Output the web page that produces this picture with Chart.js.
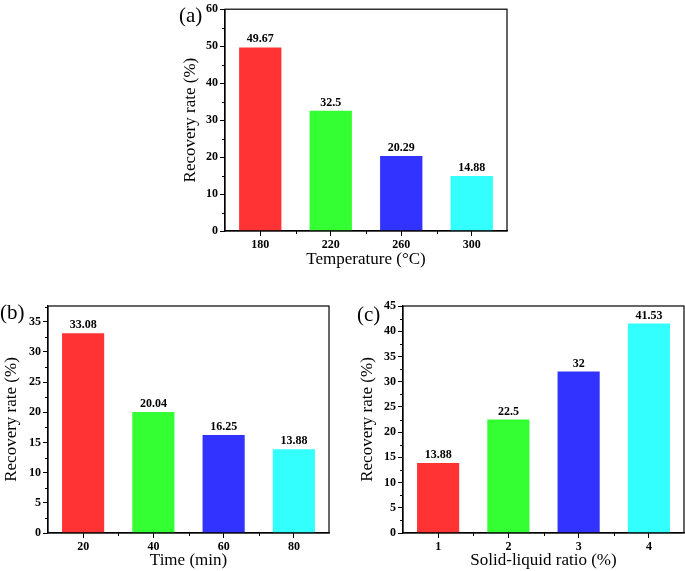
<!DOCTYPE html>
<html>
<head>
<meta charset="utf-8">
<script src="https://cdn.jsdelivr.net/npm/chart.js@4.4.0/dist/chart.umd.min.js"></script>
<style>
  body { margin: 0; background: #fff; }
  #page { position: relative; width: 685px; height: 571px; overflow: hidden; }
  .panel { position: absolute; }
  .tag { position: absolute; font-family: 'Liberation Serif', 'Times New Roman', serif; font-size: 21px; line-height: 21px; color: #000; }
</style>
</head>
<body>
<div id="page">
  <div class="panel" style="left:140px;top:0px;"><canvas id="chartA" width="380" height="280"></canvas></div>
  <div class="panel" style="left:0px;top:280px;"><canvas id="chartB" width="345" height="291"></canvas></div>
  <div class="panel" style="left:340px;top:280px;"><canvas id="chartC" width="345" height="291"></canvas></div>
  <div class="tag" style="left:179px;top:5px;">(a)</div>
  <div class="tag" style="left:0px;top:302px;">(b)</div>
  <div class="tag" style="left:357px;top:304px;">(c)</div>
</div>
<script>
// data
const temperatureLabels = ['180', '220', '260', '300'];
const temperatureValues = [49.67, 32.5, 20.29, 14.88];

const timeLabels = ['20', '40', '60', '80'];
const timeValues = [33.08, 20.04, 16.25, 13.88];

const ratioLabels = ['1', '2', '3', '4'];
const ratioValues = [13.88, 22.5, 32, 41.53];

const barColors = ['#ff3333', '#33ff33', '#3333ff', '#33ffff'];

Chart.defaults.font.family = "'Liberation Serif', 'Times New Roman', serif";
Chart.defaults.color = '#000';

// box round the plot + minor ticks
const frame = {
  id: 'frame',
  afterDraw(chart, args, opts) {
    const { ctx, chartArea: a, scales } = chart;
    ctx.save();
    ctx.strokeStyle = '#000';
    ctx.lineWidth = 1.2;
    ctx.strokeRect(a.left, a.top, a.right - a.left, a.bottom - a.top);

    ctx.lineWidth = 1;
    ctx.beginPath();
    const y = scales.y;
    for (let v = opts.minor; v < y.max; v += opts.minor) {
      if (Math.abs(v / opts.major - Math.round(v / opts.major)) < 1e-6) continue;
      const py = Math.round(y.getPixelForValue(v)) + 0.5;
      ctx.moveTo(a.left, py);
      ctx.lineTo(a.left - 3, py);
    }
    const x = scales.x;
    const n = chart.data.labels.length;
    for (let i = 1; i < n; i++) {
      const px = Math.round(x.getPixelForValue(i - 0.5)) + 0.5;
      ctx.moveTo(px, a.bottom);
      ctx.lineTo(px, a.bottom + 3);
    }
    ctx.stroke();
    ctx.restore();
  }
};

// numbers on top of bars
const barValues = {
  id: 'barValues',
  afterDatasetsDraw(chart) {
    const { ctx } = chart;
    const meta = chart.getDatasetMeta(0);
    const values = chart.data.datasets[0].data;
    ctx.save();
    ctx.font = "bold 12px 'Liberation Serif', 'Times New Roman', serif";
    ctx.fillStyle = '#000';
    ctx.textAlign = 'center';
    ctx.textBaseline = 'alphabetic';
    meta.data.forEach((bar, i) => {
      ctx.fillText(String(values[i]), bar.x, bar.y - 5);
    });
    ctx.restore();
  }
};

function makeChart(id, labels, values, o) {
  return new Chart(document.getElementById(id), {
    type: 'bar',
    data: {
      labels: labels,
      datasets: [{
        data: values,
        backgroundColor: barColors,
        borderWidth: 0,
        barPercentage: 0.6,
        categoryPercentage: 1
      }]
    },
    options: {
      responsive: false,
      animation: false,
      layout: { padding: o.padding },
      plugins: {
        legend: { display: false },
        tooltip: { enabled: false },
        frame: { major: o.major, minor: o.minor }
      },
      scales: {
        x: {
          ticks: { color: '#000', font: { size: 12, weight: 'bold' }, padding: 2 },
          grid: { drawOnChartArea: false, offset: false, tickLength: 5, tickColor: '#000', tickWidth: 1 },
          border: { color: '#000', width: 1.2 },
          title: { display: true, text: o.xTitle, color: '#000', font: { size: 17 }, padding: 0 },
          afterFit(s) { s.height = o.xHeight; }
        },
        y: {
          min: 0,
          max: o.max,
          ticks: { stepSize: o.major, includeBounds: false, color: '#000', font: { size: 12, weight: 'bold' }, padding: 2 },
          grid: { drawOnChartArea: false, tickLength: 5, tickColor: '#000', tickWidth: 1 },
          border: { color: '#000', width: 1.2 },
          title: { display: true, text: 'Recovery rate (%)', color: '#000', font: { size: 17 }, padding: 0 },
          afterFit(s) { s.width = o.yWidth; }
        }
      }
    },
    plugins: [frame, barValues]
  });
}

makeChart('chartA', temperatureLabels, temperatureValues, {
  xTitle: 'Temperature (°C)', max: 60, major: 10, minor: 5,
  padding: { left: 40, top: 5, right: 13, bottom: 10 }, yWidth: 45, xHeight: 39
});

makeChart('chartB', timeLabels, timeValues, {
  xTitle: 'Time (min)', max: 37.6, major: 5, minor: 2.5,
  padding: { left: 1, top: 26, right: 16, bottom: 0 }, yWidth: 47, xHeight: 38
});

makeChart('chartC', ratioLabels, ratioValues, {
  xTitle: 'Solid-liquid ratio (%)', max: 45, major: 5, minor: 2.5,
  padding: { left: 17, top: 26, right: 1, bottom: 0 }, yWidth: 46, xHeight: 38
});
</script>
</body>
</html>
